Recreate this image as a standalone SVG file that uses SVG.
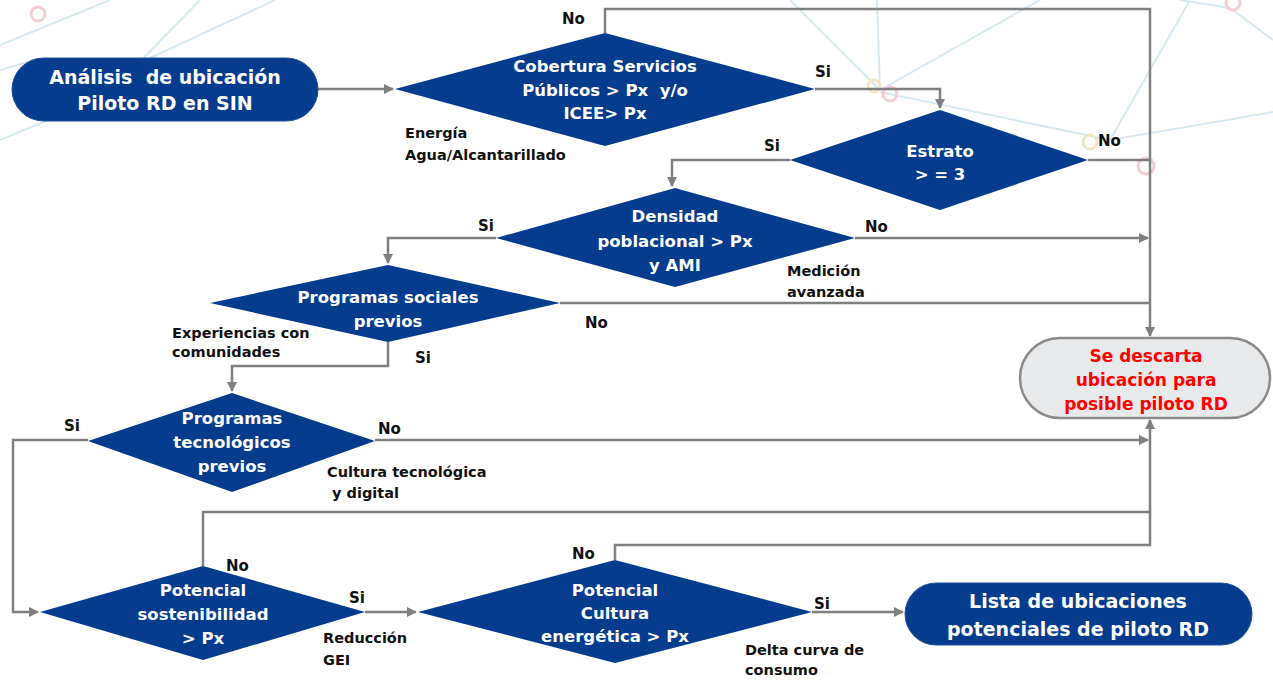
<svg xmlns="http://www.w3.org/2000/svg" width="1273" height="683" viewBox="0 0 1273 683">
<defs>
<marker id="ah" viewBox="0 0 10 10" refX="9" refY="5" markerWidth="10" markerHeight="10" markerUnits="userSpaceOnUse" orient="auto">
<path d="M0,0 L10,5 L0,10 z" fill="#7f7f7f"/>
</marker>
<style>
.bg{stroke:#d6e8f0;stroke-width:2;fill:none}
.bc{fill:none;stroke:#f2cdd2;stroke-width:3}
.by{fill:none;stroke:#f3e4c8;stroke-width:3}
.blue{fill:#063c8e}
.pill{fill:#063c8e;stroke:#1f4f99;stroke-width:1}
.gray{fill:#e8e9ea;stroke:#8a8a8a;stroke-width:2.5}
.c{fill:none;stroke:#7f7f7f;stroke-width:2.5}
.a{marker-end:url(#ah)}
.t{font-family:"DejaVu Sans","Liberation Sans",sans-serif;font-weight:bold;fill:#fff;text-anchor:middle;white-space:pre}
.big{font-size:19px}
.mid{font-size:16.5px}
.red{fill:#ff0000;font-size:17px}
.lab{font-family:"DejaVu Sans","Liberation Sans",sans-serif;font-weight:bold;fill:#111;font-size:15px}
.note{font-family:"DejaVu Sans","Liberation Sans",sans-serif;font-weight:bold;fill:#111;font-size:14.5px;white-space:pre}
</style>
</defs>
<rect width="1273" height="683" fill="#ffffff"/>
<g id="background">
<path class="bg" d="M0,45 L110,0 M130,72 L200,0 M120,72 L275,0 M0,140 L60,115 M0,70 L35,60"/>
<path class="bg" d="M880,90 L790,0 M880,90 L877,0 M880,90 L1040,0 M880,92 L1110,140 M1110,140 L1190,0 M1110,140 L1273,112 M1230,8 L1273,40 M1230,8 L1180,0"/>
<circle class="bc" cx="38" cy="14" r="7"/>
<circle class="by" cx="118" cy="68" r="6"/>
<circle class="by" cx="874" cy="86" r="6"/>
<circle class="bc" cx="890" cy="94" r="7"/>
<circle class="by" cx="1090" cy="142" r="7"/>
<circle class="bc" cx="1146" cy="166" r="8"/>
<circle class="bc" cx="1233" cy="3" r="7"/>
</g>
<g id="connectors">
<path class="c a" d="M318,89 H393"/>
<path class="c a" d="M605,33 V9 H1150 V336"/>
<path class="c a" d="M815,89 H940 V108"/>
<path class="c a" d="M790,160 H672 V186"/>
<path class="c" d="M1088,160 H1150"/>
<path class="c a" d="M496,238 H388 V263"/>
<path class="c a" d="M855,238 H1148"/>
<path class="c" d="M560,303 H1150"/>
<path class="c a" d="M388,342 V366 H232 V391"/>
<path class="c a" d="M88,440 H13 V612 H38"/>
<path class="c a" d="M375,440 H1148"/>
<path class="c a" d="M365,612 H416"/>
<path class="c" d="M203,566 V512 H1150"/>
<path class="c a" d="M615,560 V545 H1150 V420"/>
<path class="c a" d="M812,612 H903"/>
</g>
<g id="n-start">
<rect class="pill" x="12" y="58" width="306" height="63" rx="31.5"/>
<text class="t big" x="165" y="84">Análisis  de ubicación</text>
<text class="t big" x="165" y="110">Piloto RD en SIN</text>
</g>
<g id="n-cobertura">
<polygon class="blue" points="395,89 605,33 815,89 605,146"/>
<text class="t mid" x="605" y="72">Cobertura Servicios</text>
<text class="t mid" x="605" y="96">Públicos &gt; Px  y/o</text>
<text class="t mid" x="605" y="119">ICEE&gt; Px</text>
</g>
<g id="n-estrato">
<polygon class="blue" points="790,160 940,110 1088,160 940,210"/>
<text class="t mid" x="940" y="157">Estrato</text>
<text class="t mid" x="940" y="180">&gt; = 3</text>
</g>
<g id="n-densidad">
<polygon class="blue" points="496,238 675,188 855,238 675,287"/>
<text class="t mid" x="675" y="222">Densidad</text>
<text class="t mid" x="675" y="247">poblacional &gt; Px</text>
<text class="t mid" x="675" y="271">y AMI</text>
</g>
<g id="n-sociales">
<polygon class="blue" points="210,303 388,265 560,303 388,342"/>
<text class="t mid" x="388" y="303">Programas sociales</text>
<text class="t mid" x="388" y="327">previos</text>
</g>
<g id="n-tecnologicos">
<polygon class="blue" points="88,441 232,393 375,441 232,492"/>
<text class="t mid" x="232" y="424">Programas</text>
<text class="t mid" x="232" y="448">tecnológicos</text>
<text class="t mid" x="232" y="472">previos</text>
</g>
<g id="n-descarta">
<rect class="gray" x="1020" y="338" width="250" height="80" rx="40"/>
<text class="t red" x="1146" y="362">Se descarta</text>
<text class="t red" x="1146" y="386">ubicación para</text>
<text class="t red" x="1146" y="410">posible piloto RD</text>
</g>
<g id="n-sostenibilidad">
<polygon class="blue" points="40,612 203,566 365,612 203,660"/>
<text class="t mid" x="203" y="596">Potencial</text>
<text class="t mid" x="203" y="620">sostenibilidad</text>
<text class="t mid" x="203" y="644">&gt; Px</text>
</g>
<g id="n-cultura">
<polygon class="blue" points="418,612 615,560 812,612 615,663"/>
<text class="t mid" x="615" y="596">Potencial</text>
<text class="t mid" x="615" y="619">Cultura</text>
<text class="t mid" x="615" y="642">energética &gt; Px</text>
</g>
<g id="n-lista">
<rect class="pill" x="905" y="583" width="347" height="62" rx="31"/>
<text class="t big" x="1078" y="608">Lista de ubicaciones</text>
<text class="t big" x="1078" y="636">potenciales de piloto RD</text>
</g>
<g id="labels">
<text class="lab" x="562" y="24">No</text>
<text class="lab" x="815" y="77">Si</text>
<text class="note" x="405" y="138">Energía</text>
<text class="note" x="405" y="160">Agua/Alcantarillado</text>
<text class="lab" x="764" y="151">Si</text>
<text class="lab" x="1098" y="146">No</text>
<text class="lab" x="478" y="231">Si</text>
<text class="lab" x="865" y="232">No</text>
<text class="note" x="787" y="276">Medición</text>
<text class="note" x="787" y="297">avanzada</text>
<text class="lab" x="585" y="328">No</text>
<text class="note" x="172" y="338">Experiencias con</text>
<text class="note" x="172" y="357">comunidades</text>
<text class="lab" x="415" y="363">Si</text>
<text class="lab" x="64" y="431">Si</text>
<text class="lab" x="378" y="434">No</text>
<text class="note" x="327" y="477">Cultura tecnológica</text>
<text class="note" x="327" y="498"> y digital</text>
<text class="lab" x="226" y="571">No</text>
<text class="lab" x="349" y="603">Si</text>
<text class="note" x="323" y="643">Reducción</text>
<text class="note" x="323" y="665">GEI</text>
<text class="lab" x="572" y="559">No</text>
<text class="lab" x="814" y="609">Si</text>
<text class="note" x="745" y="655">Delta curva de</text>
<text class="note" x="745" y="675">consumo</text>
</g>
</svg>
